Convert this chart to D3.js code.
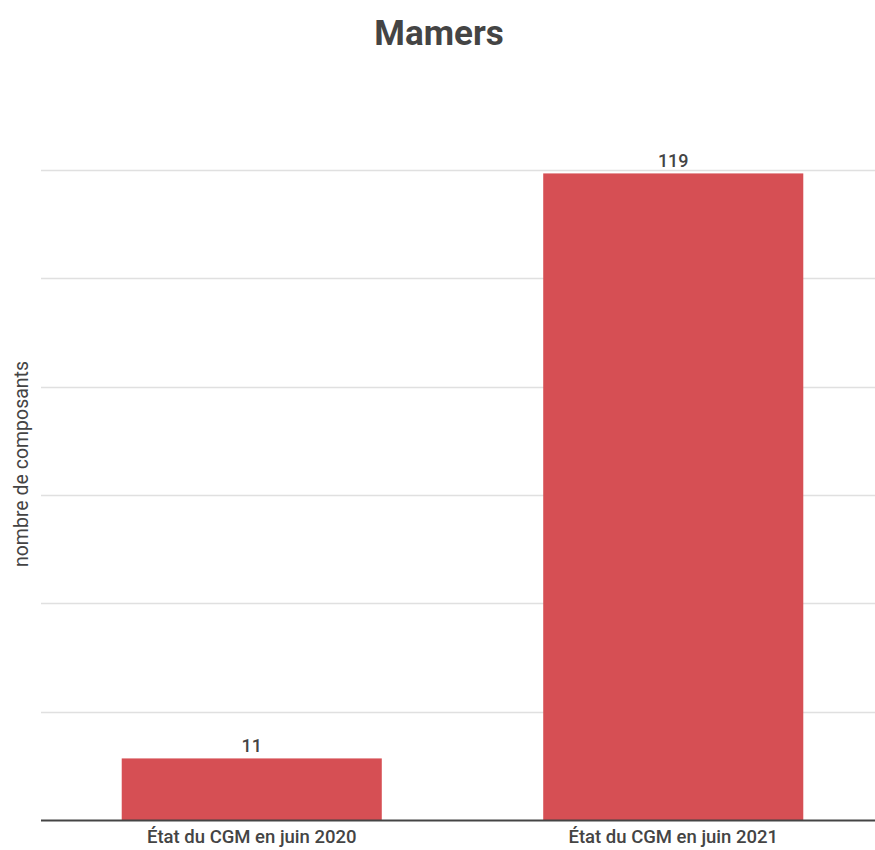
<!DOCTYPE html>
<html>
<head>
<meta charset="utf-8">
<script src="https://cdn.jsdelivr.net/npm/d3@7/dist/d3.min.js"></script>
<style>
  body { margin: 0; background: #fff; }
  svg { display: block; font-family: Roboto, "Noto Sans", sans-serif; }
</style>
</head>
<body>
<svg id="chart" width="875" height="850"></svg>
<script>
const title = "Mamers";
const categories = ["État du CGM en juin 2020", "État du CGM en juin 2021"];
const values = [11, 119];
const yTicks = [0, 20, 40, 60, 80, 100, 120];
const yAxisTitle = "nombre de composants";

const svg = d3.select("#chart");
const mLeft = 41, mRight = 884, mTop = 170, mBottom = 820;

const x = d3.scaleBand().domain(categories).range([mLeft, mRight])
  .paddingInner(0.383).paddingOuter(0.1915);
const y = d3.scaleLinear().domain([0, 120]).range([mBottom, mTop]);

// gridlines
svg.append("g")
  .selectAll("line").data(yTicks.filter(d => d > 0)).join("line")
  .attr("x1", mLeft).attr("x2", 875)
  .attr("y1", d => Math.round(y(d)) + 0.5).attr("y2", d => Math.round(y(d)) + 0.5)
  .attr("stroke", "#e0e0e0").attr("stroke-width", 1.5);

// bars
svg.append("g")
  .selectAll("rect").data(values).join("rect")
  .attr("x", (d, i) => x(categories[i]))
  .attr("width", x.bandwidth())
  .attr("y", d => y(d) - 2)
  .attr("height", d => y(0) - y(d) + 2)
  .attr("fill", "#d64f54");

// value labels
svg.append("g")
  .selectAll("text").data(values).join("text")
  .attr("x", (d, i) => x(categories[i]) + x.bandwidth() / 2)
  .attr("y", d => y(d) - 8)
  .attr("text-anchor", "middle")
  .attr("font-size", 18).attr("font-weight", 500)
  .attr("fill", "#444")
  .text(d => d);

// baseline
svg.append("line")
  .attr("x1", mLeft).attr("x2", 875)
  .attr("y1", mBottom + 0.5).attr("y2", mBottom + 0.5)
  .attr("stroke", "#444").attr("stroke-width", 2);

// x axis labels
const xAxis = d3.axisBottom(x).tickSize(0).tickPadding(10);
const gx = svg.append("g").attr("transform", `translate(0,${mBottom})`).call(xAxis);
gx.select(".domain").remove();
gx.selectAll("text").attr("font-size", 18.5).attr("font-weight", 500).attr("fill", "#444")
  .attr("font-family", "Roboto, sans-serif");

// title
svg.append("text")
  .attr("x", 439).attr("y", 45)
  .attr("text-anchor", "middle")
  .attr("font-size", 35).attr("font-weight", 700)
  .attr("fill", "#444")
  .text(title);

// y axis title
svg.append("text")
  .attr("transform", "translate(28,464) rotate(-90)")
  .attr("text-anchor", "middle")
  .attr("font-size", 19.5)
  .attr("fill", "#444")
  .text(yAxisTitle);
</script>
</body>
</html>
